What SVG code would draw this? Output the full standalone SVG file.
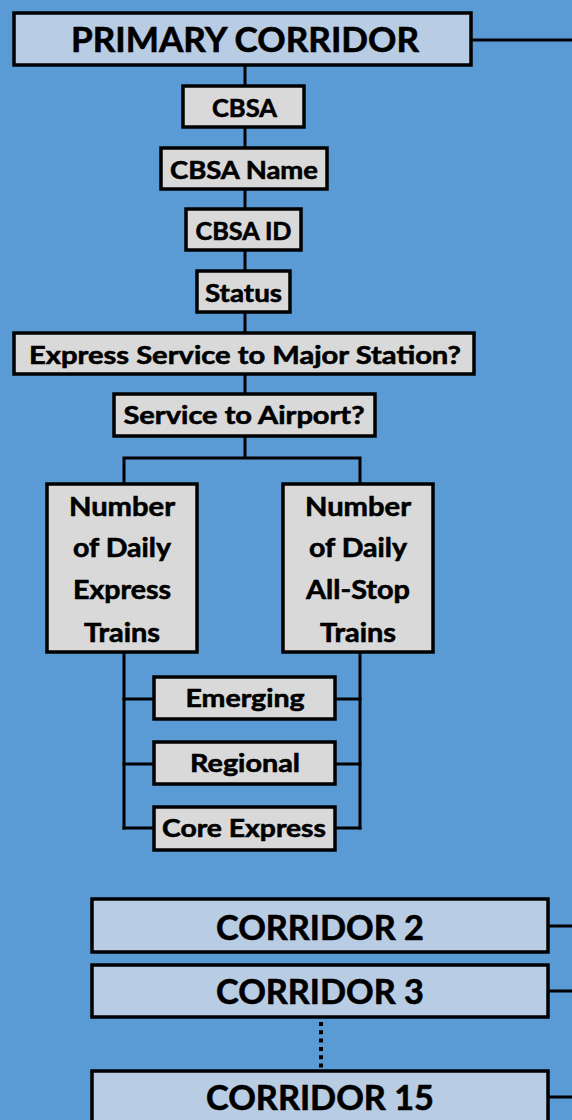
<svg xmlns="http://www.w3.org/2000/svg" width="572" height="1120" viewBox="0 0 572 1120">
<style>
.bg{fill:#5B9BD5}
.c{fill:#B8CCE4;stroke:#000;stroke-width:3.5}
.s{fill:#D9D9D9;stroke:#000;stroke-width:3.5}
.ln{stroke:#000;stroke-width:3;fill:none}
.dot{stroke:#000;stroke-width:4;fill:none;stroke-dasharray:4 4.3}
text{font-family:Lato,"Open Sans","Liberation Sans",sans-serif;font-weight:700;fill:#000;stroke:#000;stroke-width:0.6;text-anchor:middle}
.big{font-size:34px}
.med{font-size:25px}
.tall{font-size:26px}
</style>
<rect class="bg" x="0" y="0" width="572" height="1120"/>
<g id="connectors">
<line class="ln" x1="471" y1="40" x2="572" y2="40"/>
<line class="ln" x1="245" y1="65" x2="245" y2="458"/>
<polyline class="ln" points="124,484 124,458 360,458 360,484"/>
<line class="ln" x1="124" y1="652" x2="124" y2="829.5"/>
<line class="ln" x1="360" y1="652" x2="360" y2="829.5"/>
<line class="ln" x1="122.5" y1="699" x2="153" y2="699"/>
<line class="ln" x1="122.5" y1="764" x2="153" y2="764"/>
<line class="ln" x1="122.5" y1="828" x2="153" y2="828"/>
<line class="ln" x1="335" y1="699" x2="361.5" y2="699"/>
<line class="ln" x1="335" y1="764" x2="361.5" y2="764"/>
<line class="ln" x1="335" y1="828" x2="361.5" y2="828"/>
<line class="ln" x1="548" y1="926" x2="572" y2="926"/>
<line class="ln" x1="548" y1="991" x2="572" y2="991"/>
<line class="ln" x1="548" y1="1097" x2="572" y2="1097"/>
<line class="dot" x1="321" y1="1022" x2="321" y2="1070"/>
</g>
<g id="primary"><rect class="c" x="14" y="13" width="457" height="52"/><text class="big" x="245" y="52" textLength="348" lengthAdjust="spacingAndGlyphs">PRIMARY CORRIDOR</text></g>
<g id="cbsa"><rect class="s" x="183" y="86" width="121" height="41"/><text class="med" x="244.5" y="117" textLength="65" lengthAdjust="spacingAndGlyphs">CBSA</text></g>
<g id="cbsa-name"><rect class="s" x="161" y="148" width="166" height="41"/><text class="med" x="244" y="179" textLength="148" lengthAdjust="spacingAndGlyphs">CBSA Name</text></g>
<g id="cbsa-id"><rect class="s" x="186" y="209" width="115" height="41"/><text class="med" x="243.5" y="240" textLength="96" lengthAdjust="spacingAndGlyphs">CBSA ID</text></g>
<g id="status"><rect class="s" x="197" y="271" width="93" height="41"/><text class="med" x="243.5" y="302" textLength="77" lengthAdjust="spacingAndGlyphs">Status</text></g>
<g id="express-service"><rect class="s" x="14" y="333" width="460" height="41"/><text class="med" x="245" y="364" textLength="432" lengthAdjust="spacingAndGlyphs">Express Service to Major Station?</text></g>
<g id="airport"><rect class="s" x="114" y="394" width="261" height="42"/><text class="med" x="244" y="424" textLength="241" lengthAdjust="spacingAndGlyphs">Service to Airport?</text></g>
<g id="express-trains"><rect class="s" x="47" y="484" width="150" height="168"/>
<text class="tall" x="122" y="516" textLength="106" lengthAdjust="spacingAndGlyphs">Number</text>
<text class="tall" x="122" y="557" textLength="98" lengthAdjust="spacingAndGlyphs">of Daily</text>
<text class="tall" x="122" y="599" textLength="98" lengthAdjust="spacingAndGlyphs">Express</text>
<text class="tall" x="122" y="642" textLength="76" lengthAdjust="spacingAndGlyphs">Trains</text></g>
<g id="allstop-trains"><rect class="s" x="283" y="484" width="150" height="168"/>
<text class="tall" x="358" y="516" textLength="106" lengthAdjust="spacingAndGlyphs">Number</text>
<text class="tall" x="358" y="557" textLength="98" lengthAdjust="spacingAndGlyphs">of Daily</text>
<text class="tall" x="358" y="599" textLength="104" lengthAdjust="spacingAndGlyphs">All-Stop</text>
<text class="tall" x="358" y="642" textLength="76" lengthAdjust="spacingAndGlyphs">Trains</text></g>
<g id="emerging"><rect class="s" x="154" y="677" width="181" height="42"/><text class="med" x="245" y="707" textLength="119" lengthAdjust="spacingAndGlyphs">Emerging</text></g>
<g id="regional"><rect class="s" x="154" y="742" width="181" height="42"/><text class="med" x="245" y="772" textLength="110" lengthAdjust="spacingAndGlyphs">Regional</text></g>
<g id="core-express"><rect class="s" x="154" y="807" width="181" height="43"/><text class="med" x="244" y="837" textLength="164" lengthAdjust="spacingAndGlyphs">Core Express</text></g>
<g id="corridor2"><rect class="c" x="92" y="899" width="456" height="53"/><text class="big" x="320" y="940" textLength="208" lengthAdjust="spacingAndGlyphs">CORRIDOR 2</text></g>
<g id="corridor3"><rect class="c" x="92" y="965" width="456" height="52"/><text class="big" x="320" y="1004" textLength="208" lengthAdjust="spacingAndGlyphs">CORRIDOR 3</text></g>
<g id="corridor15"><rect class="c" x="92" y="1071" width="456" height="60"/><text class="big" x="320" y="1110" textLength="228" lengthAdjust="spacingAndGlyphs">CORRIDOR 15</text></g>
</svg>
